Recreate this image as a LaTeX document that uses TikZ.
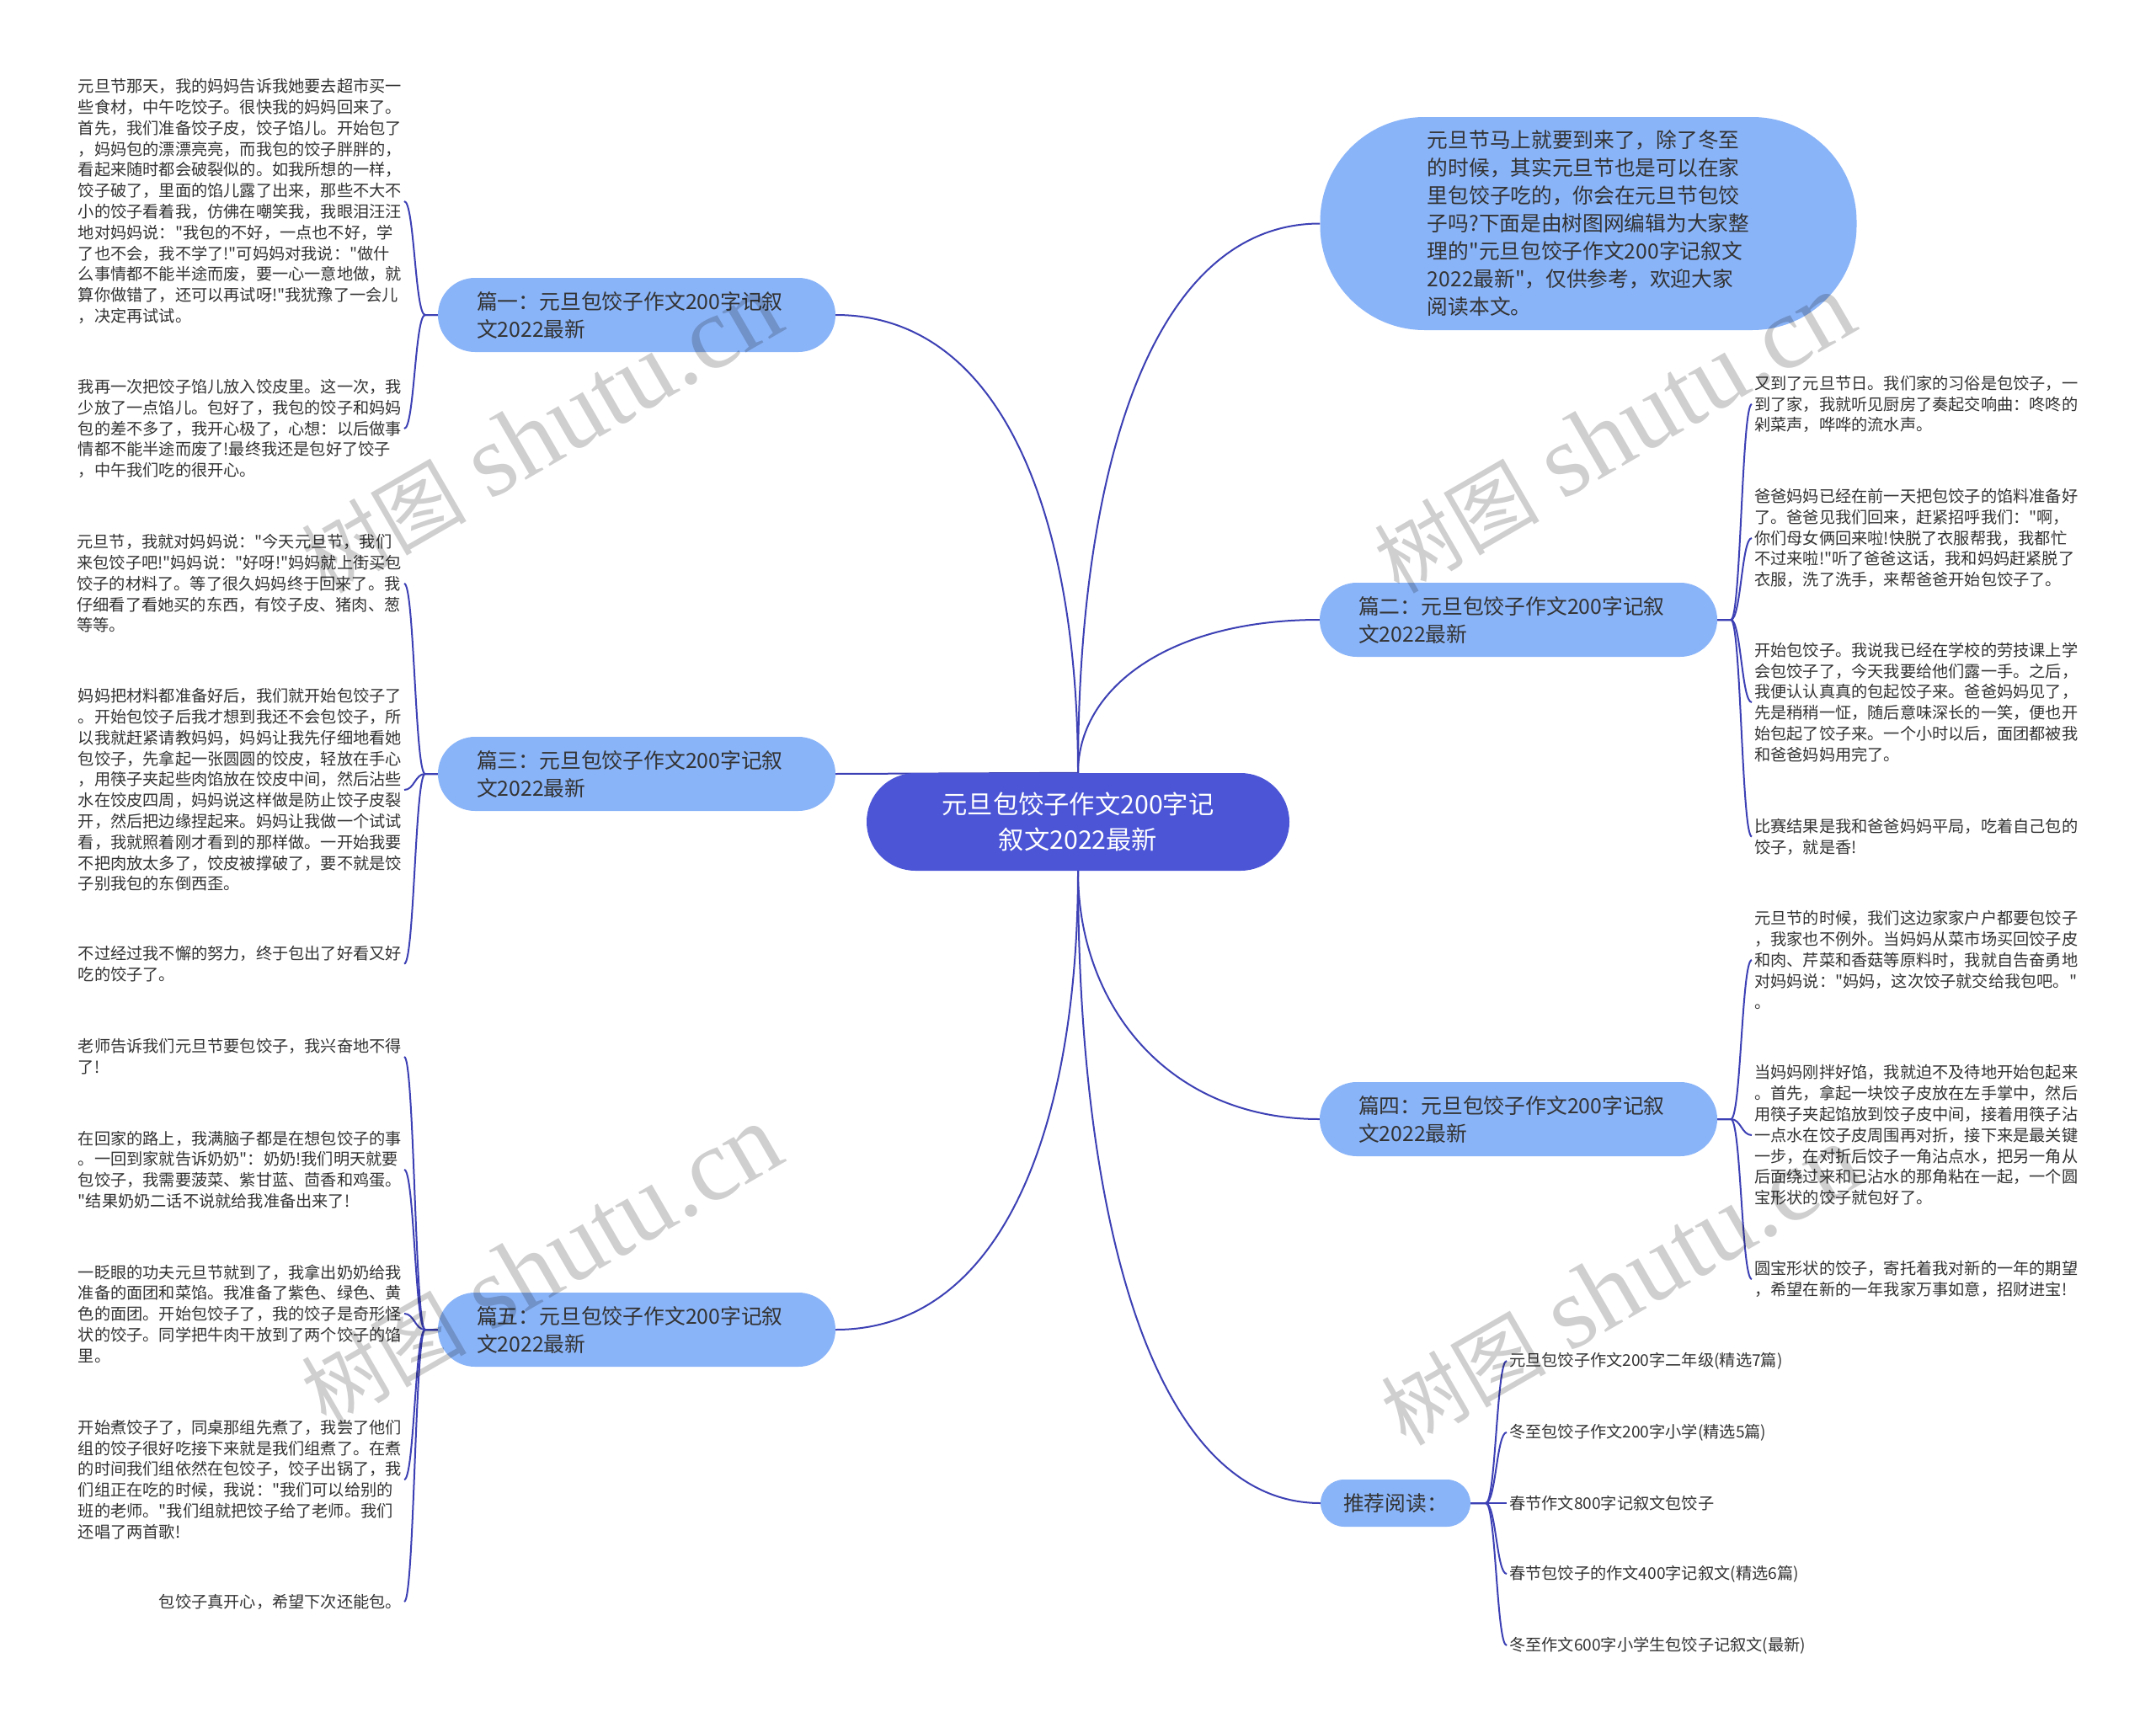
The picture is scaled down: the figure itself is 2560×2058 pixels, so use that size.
\documentclass[tikz,border=0pt]{standalone}
\usepackage{fontspec}
\newfontfamily\cjk{Noto Sans CJK SC}
\newfontfamily\wmserif{Liberation Serif}
\usetikzlibrary{backgrounds}
\definecolor{edgec}{HTML}{3C40B4}
\definecolor{lvlc}{HTML}{8AB4F8}
\definecolor{rootc}{HTML}{4B55D6}
\definecolor{txtc}{HTML}{333333}
\tikzset{
  edge/.style={draw=edgec, line width=2pt},
  leaf/.style={font=\cjk\fontsize{19.2pt}{24.8pt}\selectfont, text=txtc, align=left, inner sep=3pt},
  lvl/.style={fill=lvlc, text=txtc, font=\cjk\fontsize{24.8pt}{33pt}\selectfont, rounded corners=44pt,
    minimum height=88pt, text width=380pt, align=left, inner xsep=46pt, inner ysep=0pt},
  rootnode/.style={fill=rootc, text=white, font=\cjk\fontsize{30.3pt}{42.4pt}\selectfont, rounded corners=58pt,
    minimum width=502pt, minimum height=116pt, align=center},
  intronode/.style={fill=lvlc, text=txtc, font=\cjk\fontsize{24.7pt}{33pt}\selectfont, rounded corners=124pt,
    minimum width=637pt, minimum height=253pt, align=left},
  recnode/.style={fill=lvlc, text=txtc, font=\cjk\fontsize{24.8pt}{33pt}\selectfont, rounded corners=28pt,
    minimum height=56pt, inner xsep=27pt, inner ysep=0pt},
  hookl/.style={out=180,in=0,distance=12pt},
  hookr/.style={out=0,in=180,distance=12pt},
  wm/.style={text=black, opacity=0.19, rotate=30, inner sep=0pt}
}
\newcommand{\wmtext}{{\cjk\fontsize{98pt}{98pt}\selectfont 树图}\hspace{28pt}{\wmserif\fontsize{122pt}{122pt}\selectfont shutu.cn}}
\begin{document}
\begin{tikzpicture}[x=1pt,y=1pt]
\useasboundingbox (0,0) rectangle (2560,-2058);
\begin{scope}[on background layer]
\fill[white] (0,0) rectangle (2560,-2058);
\end{scope}

% root and level-1
\node[rootnode] (c) at (1280,-976) {元旦包饺子作文200字记\\叙文2022最新};
\node[lvl] (p1) at (756,-374) {篇一：元旦包饺子作文200字记叙\\文2022最新};
\node[lvl] (p3) at (756,-919) {篇三：元旦包饺子作文200字记叙\\文2022最新};
\node[lvl] (p5) at (756,-1579) {篇五：元旦包饺子作文200字记叙\\文2022最新};
\node[lvl] (p2) at (1803,-736) {篇二：元旦包饺子作文200字记叙\\文2022最新};
\node[lvl] (p4) at (1803,-1329) {篇四：元旦包饺子作文200字记叙\\文2022最新};
\node[intronode] (intro) at (1886,-265.5) {元旦节马上就要到来了，除了冬至\\的时候，其实元旦节也是可以在家\\里包饺子吃的，你会在元旦节包饺\\子吗?下面是由树图网编辑为大家整\\理的"元旦包饺子作文200字记叙文\\2022最新"，仅供参考，欢迎大家\\阅读本文。};
\node[recnode] (rec) at (1657,-1785) {推荐阅读：};

% left leaves
\node[leaf, anchor=east] (l1) at (480,-239) {元旦节那天，我的妈妈告诉我她要去超市买一\\些食材，中午吃饺子。很快我的妈妈回来了。\\首先，我们准备饺子皮，饺子馅儿。开始包了\\，妈妈包的漂漂亮亮，而我包的饺子胖胖的，\\看起来随时都会破裂似的。如我所想的一样，\\饺子破了，里面的馅儿露了出来，那些不大不\\小的饺子看着我，仿佛在嘲笑我，我眼泪汪汪\\地对妈妈说："我包的不好，一点也不好，学\\了也不会，我不学了!"可妈妈对我说："做什\\么事情都不能半途而废，要一心一意地做，就\\算你做错了，还可以再试呀!"我犹豫了一会儿\\，决定再试试。};
\node[leaf, anchor=east] (l2) at (480,-509) {我再一次把饺子馅儿放入饺皮里。这一次，我\\少放了一点馅儿。包好了，我包的饺子和妈妈\\包的差不多了，我开心极了，心想：以后做事\\情都不能半途而废了!最终我还是包好了饺子\\，中午我们吃的很开心。};
\node[leaf, anchor=east] (l3) at (480,-693) {元旦节，我就对妈妈说："今天元旦节，我们\\来包饺子吧!"妈妈说："好呀!"妈妈就上街买包\\饺子的材料了。等了很久妈妈终于回来了。我\\仔细看了看她买的东西，有饺子皮、猪肉、葱\\等等。};
\node[leaf, anchor=east] (l4) at (480,-938) {妈妈把材料都准备好后，我们就开始包饺子了\\。开始包饺子后我才想到我还不会包饺子，所\\以我就赶紧请教妈妈，妈妈让我先仔细地看她\\包饺子，先拿起一张圆圆的饺皮，轻放在手心\\，用筷子夹起些肉馅放在饺皮中间，然后沾些\\水在饺皮四周，妈妈说这样做是防止饺子皮裂\\开，然后把边缘捏起来。妈妈让我做一个试试\\看，我就照着刚才看到的那样做。一开始我要\\不把肉放太多了，饺皮被撑破了，要不就是饺\\子别我包的东倒西歪。};
\node[leaf, anchor=east] (l5) at (480,-1144.5) {不过经过我不懈的努力，终于包出了好看又好\\吃的饺子了。};
\node[leaf, anchor=east] (l6) at (480,-1255) {老师告诉我们元旦节要包饺子，我兴奋地不得\\了!};
\node[leaf, anchor=east] (l7) at (480,-1389) {在回家的路上，我满脑子都是在想包饺子的事\\。一回到家就告诉奶奶"：奶奶!我们明天就要\\包饺子，我需要菠菜、紫甘蓝、茴香和鸡蛋。\\"结果奶奶二话不说就给我准备出来了!};
\node[leaf, anchor=east] (l8) at (480,-1560) {一眨眼的功夫元旦节就到了，我拿出奶奶给我\\准备的面团和菜馅。我准备了紫色、绿色、黄\\色的面团。开始包饺子了，我的饺子是奇形怪\\状的饺子。同学把牛肉干放到了两个饺子的馅\\里。};
\node[leaf, anchor=east] (l9) at (480,-1757) {开始煮饺子了，同桌那组先煮了，我尝了他们\\组的饺子很好吃接下来就是我们组煮了。在煮\\的时间我们组依然在包饺子，饺子出锅了，我\\们组正在吃的时候，我说："我们可以给别的\\班的老师。"我们组就把饺子给了老师。我们\\还唱了两首歌!};
\node[leaf, anchor=east] (l10) at (480,-1902) {包饺子真开心，希望下次还能包。};

% right leaves
\node[leaf, anchor=west] (r1) at (2080,-480) {又到了元旦节日。我们家的习俗是包饺子，一\\到了家，我就听见厨房了奏起交响曲：咚咚的\\剁菜声，哗哗的流水声。};
\node[leaf, anchor=west] (r2) at (2080,-639) {爸爸妈妈已经在前一天把包饺子的馅料准备好\\了。爸爸见我们回来，赶紧招呼我们："啊，\\你们母女俩回来啦!快脱了衣服帮我，我都忙\\不过来啦!"听了爸爸这话，我和妈妈赶紧脱了\\衣服，洗了洗手，来帮爸爸开始包饺子了。};
\node[leaf, anchor=west] (r3) at (2080,-834) {开始包饺子。我说我已经在学校的劳技课上学\\会包饺子了，今天我要给他们露一手。之后，\\我便认认真真的包起饺子来。爸爸妈妈见了，\\先是稍稍一怔，随后意味深长的一笑，便也开\\始包起了饺子来。一个小时以后，面团都被我\\和爸爸妈妈用完了。};
\node[leaf, anchor=west] (r4) at (2080,-993.5) {比赛结果是我和爸爸妈妈平局，吃着自己包的\\饺子，就是香!};
\node[leaf, anchor=west] (r5) at (2080,-1140) {元旦节的时候，我们这边家家户户都要包饺子\\，我家也不例外。当妈妈从菜市场买回饺子皮\\和肉、芹菜和香菇等原料时，我就自告奋勇地\\对妈妈说："妈妈，这次饺子就交给我包吧。"\\。};
\node[leaf, anchor=west] (r6) at (2080,-1348) {当妈妈刚拌好馅，我就迫不及待地开始包起来\\。首先，拿起一块饺子皮放在左手掌中，然后\\用筷子夹起馅放到饺子皮中间，接着用筷子沾\\一点水在饺子皮周围再对折，接下来是最关键\\一步，在对折后饺子一角沾点水，把另一角从\\后面绕过来和已沾水的那角粘在一起，一个圆\\宝形状的饺子就包好了。};
\node[leaf, anchor=west] (r7) at (2080,-1519) {圆宝形状的饺子，寄托着我对新的一年的期望\\，希望在新的一年我家万事如意，招财进宝!};

% recommended leaves
\node[leaf, anchor=west] (k1) at (1789,-1616) {元旦包饺子作文200字二年级(精选7篇)};
\node[leaf, anchor=west] (k2) at (1789,-1701) {冬至包饺子作文200字小学(精选5篇)};
\node[leaf, anchor=west] (k3) at (1789,-1785) {春节作文800字记叙文包饺子};
\node[leaf, anchor=west] (k4) at (1789,-1869) {春节包饺子的作文400字记叙文(精选6篇)};
\node[leaf, anchor=west] (k5) at (1789,-1954) {冬至作文600字小学生包饺子记叙文(最新)};

\begin{scope}[on background layer]
% root edges
\draw[edge] (c.north) to[out=90,in=0,out distance=300pt,in distance=200pt] (p1.east);
\draw[edge] (c.north) -- (p3.east);
\draw[edge] (c.south) to[out=270,in=0,out distance=300pt,in distance=200pt] (p5.east);
\draw[edge] (c.north) to[out=90,in=180,out distance=360pt,in distance=200pt] (intro.west);
\draw[edge] (c.north) to[out=90,in=180,out distance=100pt,in distance=180pt] (p2.west);
\draw[edge] (c.south) to[out=270,in=180,out distance=160pt,in distance=180pt] (p4.west);
\draw[edge] (c.south) to[out=270,in=180,out distance=410pt,in distance=200pt] (rec.west);
% left branches
\foreach \t in {l1,l2} \draw[edge] (p1.west) -- ++(-15,0) to[hookl] (\t.east);
\foreach \t in {l3,l4,l5} \draw[edge] (p3.west) -- ++(-15,0) to[hookl] (\t.east);
\foreach \t in {l6,l7,l8,l9,l10} \draw[edge] (p5.west) -- ++(-15,0) to[hookl] (\t.east);
% right branches
\foreach \t in {r1,r2,r3,r4} \draw[edge] (p2.east) -- ++(16,0) to[hookr] (\t.west);
\foreach \t in {r5,r6,r7} \draw[edge] (p4.east) -- ++(16,0) to[hookr] (\t.west);
\foreach \t in {k1,k2,k3,k4,k5} \draw[edge] (rec.east) -- ++(18,0) to[hookr] (\t.west);
\end{scope}

% watermarks
\node[wm] (w1) at (643,-515) {\wmtext};
\node[wm] (w2) at (643,-1503) {\wmtext};
\node[wm] (w3) at (1917,-515) {\wmtext};
\node[wm] (w4) at (1925,-1527) {\wmtext};
\end{tikzpicture}
\end{document}
